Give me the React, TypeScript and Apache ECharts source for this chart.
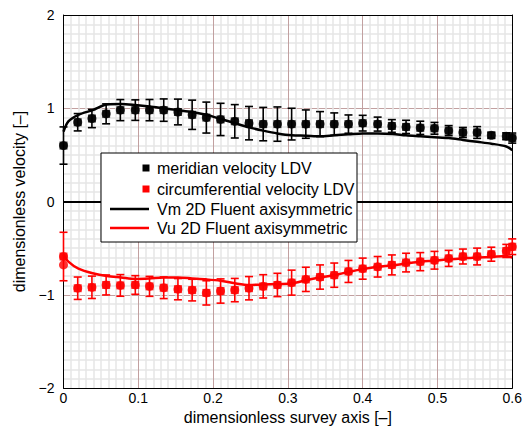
import React, { useEffect, useRef } from "react";
import * as echarts from "echarts";

// Measurement positions (dimensionless survey axis)
const xLdv = [0, 0.019, 0.038, 0.057, 0.076, 0.096, 0.115, 0.134, 0.153, 0.172, 0.191, 0.21, 0.229, 0.248, 0.267, 0.286, 0.305, 0.324, 0.343, 0.362, 0.381, 0.4, 0.42, 0.439, 0.458, 0.477, 0.496, 0.515, 0.534, 0.553, 0.572, 0.592, 0.6];
// Meridian velocity LDV (black)
const vmLdv = [0.6, 0.85, 0.89, 0.94, 0.98, 0.98, 0.98, 0.98, 0.96, 0.93, 0.9, 0.88, 0.86, 0.84, 0.83, 0.83, 0.83, 0.83, 0.83, 0.83, 0.83, 0.84, 0.83, 0.81, 0.8, 0.79, 0.785, 0.76, 0.74, 0.74, 0.71, 0.7, 0.68];
const vmErr = [0.2, 0.093, 0.098, 0.107, 0.113, 0.11, 0.114, 0.12, 0.138, 0.157, 0.166, 0.173, 0.179, 0.179, 0.179, 0.184, 0.17, 0.152, 0.134, 0.12, 0.098, 0.084, 0.075, 0.068, 0.071, 0.071, 0.063, 0.054, 0.054, 0.063, 0.03, 0.036, 0.054];
// Circumferential velocity LDV (red)
const vuLdv = [-0.59, -0.93, -0.92, -0.895, -0.9, -0.895, -0.91, -0.925, -0.94, -0.95, -0.98, -0.96, -0.95, -0.93, -0.91, -0.895, -0.87, -0.835, -0.81, -0.79, -0.75, -0.72, -0.7, -0.68, -0.655, -0.645, -0.63, -0.61, -0.59, -0.59, -0.565, -0.53, -0.485];
const vuErr = [0.26, 0.12, 0.12, 0.107, 0.116, 0.1, 0.107, 0.116, 0.114, 0.116, 0.13, 0.13, 0.125, 0.125, 0.125, 0.125, 0.134, 0.13, 0.13, 0.13, 0.118, 0.113, 0.11, 0.107, 0.1, 0.097, 0.095, 0.086, 0.08, 0.09, 0.075, 0.07, 0.084];
// Second red reading at the inlet
const vuExtraX = [0];
const vuExtraY = [-0.68];

// CFD curves
const xCfd = [0, 0.0065, 0.02, 0.039, 0.058, 0.077, 0.096, 0.115, 0.134, 0.153, 0.172, 0.191, 0.21, 0.229, 0.248, 0.267, 0.286, 0.305, 0.324, 0.343, 0.362, 0.381, 0.4, 0.42, 0.44, 0.458, 0.477, 0.496, 0.515, 0.534, 0.553, 0.572, 0.592, 0.6];
const vmCfd = [0.75, 0.86, 0.93, 0.98, 1.04, 1.045, 1.035, 1.02, 1.0, 0.98, 0.96, 0.93, 0.885, 0.84, 0.795, 0.76, 0.73, 0.71, 0.706, 0.7, 0.71, 0.72, 0.73, 0.73, 0.725, 0.71, 0.7, 0.69, 0.68, 0.66, 0.64, 0.62, 0.59, 0.55];
const vuCfd = [-0.57, -0.645, -0.72, -0.77, -0.8, -0.815, -0.83, -0.825, -0.815, -0.815, -0.825, -0.835, -0.85, -0.877, -0.895, -0.89, -0.885, -0.88, -0.845, -0.815, -0.79, -0.755, -0.725, -0.7, -0.685, -0.665, -0.645, -0.635, -0.62, -0.61, -0.6, -0.595, -0.585, -0.6];

const legendLabels = [
  "meridian velocity LDV",
  "circumferential velocity LDV",
  "Vm 2D Fluent axisymmetric",
  "Vu 2D Fluent axisymmetric",
];
const xTitle = "dimensionless survey axis [\u2013]";
const yTitle = "dimensionless velocity [\u2013]";

const FONT = "'Liberation Sans', Arial, Helvetica, sans-serif";
const BLACK = "#000000";
const RED = "#ff0000";

function errorBarSeries(xs: number[], ys: number[], es: number[], color: string) {
  return {
    type: "custom",
    xAxisIndex: 0,
    yAxisIndex: 0,
    clip: false,
    z: 3,
    data: xs.map((x, i) => [x, ys[i], es[i]]),
    encode: { x: 0, y: 1 },
    renderItem: (params: any, api: any) => {
      const x = api.value(0);
      const y = api.value(1);
      const e = api.value(2);
      const top = api.coord([x, y + e]);
      const bot = api.coord([x, y - e]);
      const hw = 4;
      const style = { stroke: color, lineWidth: 1.6 };
      return {
        type: "group",
        children: [
          { type: "line", shape: { x1: top[0], y1: top[1], x2: bot[0], y2: bot[1] }, style },
          { type: "line", shape: { x1: top[0] - hw, y1: top[1], x2: top[0] + hw, y2: top[1] }, style },
          { type: "line", shape: { x1: bot[0] - hw, y1: bot[1], x2: bot[0] + hw, y2: bot[1] }, style },
        ],
      };
    },
  };
}

export default function App() {
  const ref = useRef<HTMLDivElement>(null);
  useEffect(() => {
    if (!ref.current) return;
    const chart = echarts.init(ref.current, null, { renderer: "svg" });
    const fmt = (v: number) => (v < 0 ? "\u2212" + String(Math.abs(v)) : String(v));
    const gridL = 63.5, gridT = 15, gridR = 11, gridB = 48;
    const legX = 101, legY = 153, legW = 256, legH = 89;
    const rowY = [168, 189, 209, 228];
    const Z = 100;
    const option: any = {
      animation: false,
      backgroundColor: "#ffffff",
      textStyle: { fontFamily: FONT },
      grid: { left: gridL, top: gridT, right: gridR, bottom: gridB, containLabel: false },
      xAxis: [
        {
          type: "value",
          min: 0,
          max: 0.6,
          interval: 0.1,
          name: xTitle,
          nameLocation: "middle",
          nameGap: 14,
          nameTextStyle: { fontSize: 16, color: BLACK, fontFamily: FONT, verticalAlign: "top" },
          axisLine: { show: true, onZero: false, lineStyle: { color: BLACK, width: 1 } },
          axisTick: { show: false },
          axisLabel: { fontSize: 14, color: BLACK, fontFamily: FONT, margin: 3, formatter: fmt },
          splitLine: { show: true, lineStyle: { color: "#c2a0a0", width: 1 } },
          minorTick: { show: false, splitNumber: 10 },
          minorSplitLine: { show: true, lineStyle: { color: "#e6e6e6", width: 1.5 } },
        },
        {
          type: "value",
          position: "top",
          min: 0,
          max: 0.6,
          axisLine: { show: true, onZero: false, lineStyle: { color: BLACK, width: 1 } },
          axisTick: { show: false },
          axisLabel: { show: false },
          splitLine: { show: false },
        },
      ],
      yAxis: [
        {
          type: "value",
          min: -2,
          max: 2,
          interval: 1,
          name: yTitle,
          nameLocation: "middle",
          nameGap: 36,
          nameTextStyle: { fontSize: 16, color: BLACK, fontFamily: FONT },
          axisLine: { show: true, onZero: false, lineStyle: { color: BLACK, width: 1 } },
          axisTick: { show: false },
          axisLabel: { fontSize: 14, color: BLACK, fontFamily: FONT, margin: 9, formatter: fmt },
          splitLine: { show: true, lineStyle: { color: "#c2a0a0", width: 1 } },
          minorTick: { show: false, splitNumber: 10 },
          minorSplitLine: { show: true, lineStyle: { color: "#e6e6e6", width: 1.5 } },
        },
        {
          type: "value",
          position: "right",
          min: -2,
          max: 2,
          axisLine: { show: true, onZero: false, lineStyle: { color: BLACK, width: 1 } },
          axisTick: { show: false },
          axisLabel: { show: false },
          splitLine: { show: false },
        },
      ],
      series: [
        {
          type: "line",
          name: "zero",
          data: [],
          markLine: {
            silent: true,
            symbol: "none",
            label: { show: false },
            lineStyle: { color: BLACK, width: 2, type: "solid" },
            data: [{ yAxis: 0 }],
          },
        },
        errorBarSeries(xLdv, vmLdv, vmErr, BLACK),
        errorBarSeries(xLdv, vuLdv, vuErr, RED),
        {
          type: "scatter",
          data: xLdv.map((x, i) => [x, vmLdv[i]]),
          symbol: "rect",
          symbolSize: 8,
          itemStyle: { color: BLACK },
          z: 4,
        },
        {
          type: "scatter",
          data: xLdv.map((x, i) => [x, vmLdv[i]]),
          symbol: "circle",
          symbolSize: 9,
          itemStyle: { color: BLACK },
          z: 4,
        },
        {
          type: "scatter",
          data: xLdv.map((x, i) => [x, vuLdv[i]]),
          symbol: "rect",
          symbolSize: 8,
          itemStyle: { color: RED },
          z: 4,
        },
        {
          type: "scatter",
          data: xLdv.map((x, i) => [x, vuLdv[i]]),
          symbol: "circle",
          symbolSize: 9,
          itemStyle: { color: RED },
          z: 4,
        },
        {
          type: "scatter",
          data: vuExtraX.map((x, i) => [x, vuExtraY[i]]),
          symbol: "circle",
          symbolSize: 9,
          itemStyle: { color: RED },
          z: 4,
        },
        {
          type: "line",
          data: xCfd.map((x, i) => [x, vmCfd[i]]),
          showSymbol: false,
          smooth: 0.3,
          lineStyle: { color: BLACK, width: 2.5 },
          z: 5,
        },
        {
          type: "line",
          data: xCfd.map((x, i) => [x, vuCfd[i]]),
          showSymbol: false,
          smooth: 0.3,
          lineStyle: { color: RED, width: 2.5 },
          z: 5,
        },
      ],
      graphic: [
        {
          type: "rect",
          z: Z,
          shape: { x: legX, y: legY, width: legW, height: legH },
          style: { fill: "#ffffff", stroke: BLACK, lineWidth: 1 },
        },
        { type: "rect", z: Z + 1, shape: { x: 142.5, y: rowY[0] - 3.5, width: 7, height: 7 }, style: { fill: BLACK } },
        { type: "rect", z: Z + 1, shape: { x: 142.5, y: rowY[1] - 3.5, width: 7, height: 7 }, style: { fill: RED } },
        { type: "line", z: Z + 1, shape: { x1: 110, y1: rowY[2], x2: 149, y2: rowY[2] }, style: { stroke: BLACK, lineWidth: 2.5 } },
        { type: "line", z: Z + 1, shape: { x1: 110, y1: rowY[3], x2: 149, y2: rowY[3] }, style: { stroke: RED, lineWidth: 2.5 } },
        ...legendLabels.map((t, i) => ({
          type: "text",
          z: Z + 1,
          x: 157,
          y: rowY[i],
          style: {
            text: t,
            fill: BLACK,
            fontSize: 16,
            fontFamily: FONT,
            verticalAlign: "middle",
          },
        })),
      ],
    };
    chart.setOption(option);
    return () => chart.dispose();
  }, []);
  return (
    <div
      ref={ref}
      style={{ position: "fixed", left: 0, top: 0, width: 525, height: 436, background: "#fff" }}
    />
  );
}
